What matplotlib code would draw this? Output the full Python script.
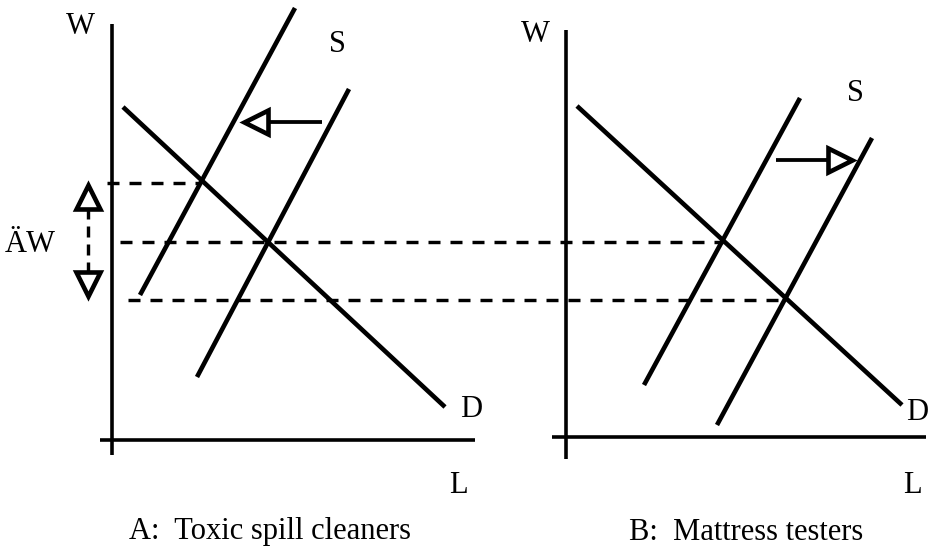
import matplotlib
matplotlib.use("Agg")
import matplotlib.pyplot as plt

plt.rcParams['font.family'] = ['Liberation Serif', 'DejaVu Serif']
plt.rcParams['lines.scale_dashes'] = False

# ---- diagram data (pixel-space coordinates of the sketch, y downward) ----
# Panel A: Toxic spill cleaners
a_yaxis_x = [112, 112]; a_yaxis_y = [24, 455]
a_xaxis_x = [100, 475]; a_xaxis_y = [440, 440]
a_demand_x = [123, 445]; a_demand_y = [107, 407]
a_supply_new_x = [140, 295]; a_supply_new_y = [295, 8]
a_supply_old_x = [197, 349]; a_supply_old_y = [377, 89]
a_shift_x = [322, 262]; a_shift_y = [122, 122]      # shaft, arrow points left
a_shift_tip = [243, 122]

# Panel B: Mattress testers
b_yaxis_x = [566, 566]; b_yaxis_y = [30, 459]
b_xaxis_x = [552, 926]; b_xaxis_y = [437, 437]
b_demand_x = [577, 902]; b_demand_y = [106, 405]
b_supply_old_x = [644, 800]; b_supply_old_y = [385, 98]
b_supply_new_x = [717, 872]; b_supply_new_y = [425, 138]
b_shift_x = [776, 833]; b_shift_y = [160, 160]
b_shift_tip = [853, 160]

# Wage reference lines (dashed)
wage_high_x = [107, 200]; wage_high_y = [183, 183]
wage_mid_x = [120, 723]; wage_mid_y = [242, 242]
wage_low_x = [128, 785]; wage_low_y = [300, 300]

# Delta-W indicator
dw_x = [88, 88]; dw_y = [208, 274]
dw_up_tip = [88, 184]
dw_down_tip = [88, 297]

# (text, x centre, baseline y)
labels = [
    ("W", 80, 34), ("S", 337, 52), ("D", 471, 417), ("L", 458, 493),
    ("ÄW", 30, 252),
    ("W", 535, 42), ("S", 855, 101), ("D", 917, 420), ("L", 912, 493),
]
# (text, left x, baseline y)
titles = [("A:  Toxic spill cleaners", 129, 539), ("B:  Mattress testers", 629, 540)]

fig = plt.figure(figsize=(9.31, 5.48), dpi=100)
ax = fig.add_axes([0, 0, 1, 1])
ax.set_xlim(0, 931)
ax.set_ylim(548, 0)
ax.axis('off')

px = 72 / 100.0
axis_lw = 3.6 * px
curve_lw = 4.6 * px
dash_lw = 3.4 * px
dash = (0, (12 * px, 10 * px))

for xs, ys in [(a_yaxis_x, a_yaxis_y), (a_xaxis_x, a_xaxis_y),
               (b_yaxis_x, b_yaxis_y), (b_xaxis_x, b_xaxis_y)]:
    ax.plot(xs, ys, color='black', lw=axis_lw, solid_capstyle='butt')

for xs, ys in [(a_demand_x, a_demand_y), (a_supply_new_x, a_supply_new_y),
               (a_supply_old_x, a_supply_old_y), (b_demand_x, b_demand_y),
               (b_supply_old_x, b_supply_old_y), (b_supply_new_x, b_supply_new_y)]:
    ax.plot(xs, ys, color='black', lw=curve_lw, solid_capstyle='butt')

for xs, ys in [(wage_high_x, wage_high_y), (wage_mid_x, wage_mid_y),
               (wage_low_x, wage_low_y)]:
    ax.plot(xs, ys, color='black', lw=dash_lw, linestyle=dash, dash_capstyle='butt')

ax.plot(dw_x, dw_y, color='black', lw=dash_lw, linestyle=(0, (11 * px, 7 * px)),
        dash_capstyle='butt')

# shift arrows
ax.plot(a_shift_x, a_shift_y, color='black', lw=3.8 * px, solid_capstyle='butt')
ax.plot(b_shift_x, b_shift_y, color='black', lw=3.8 * px, solid_capstyle='butt')

msize = 24 * px
mew = 4.6 * px
half = 13
for tip, mk, dx, dy in [(a_shift_tip, '<', half, 0), (b_shift_tip, '>', -half, 0),
                        (dw_up_tip, '^', 0, half), (dw_down_tip, 'v', 0, -half)]:
    ax.plot([tip[0] + dx], [tip[1] + dy], marker=mk, ms=msize, mfc='white',
            mec='black', mew=mew, linestyle='none')

for t, x, y in labels:
    ax.text(x, y, t, fontsize=22, ha='center', va='baseline')
for t, x, y in titles:
    ax.text(x, y, t, fontsize=22, ha='left', va='baseline')

fig.savefig('out.png', dpi=100)
